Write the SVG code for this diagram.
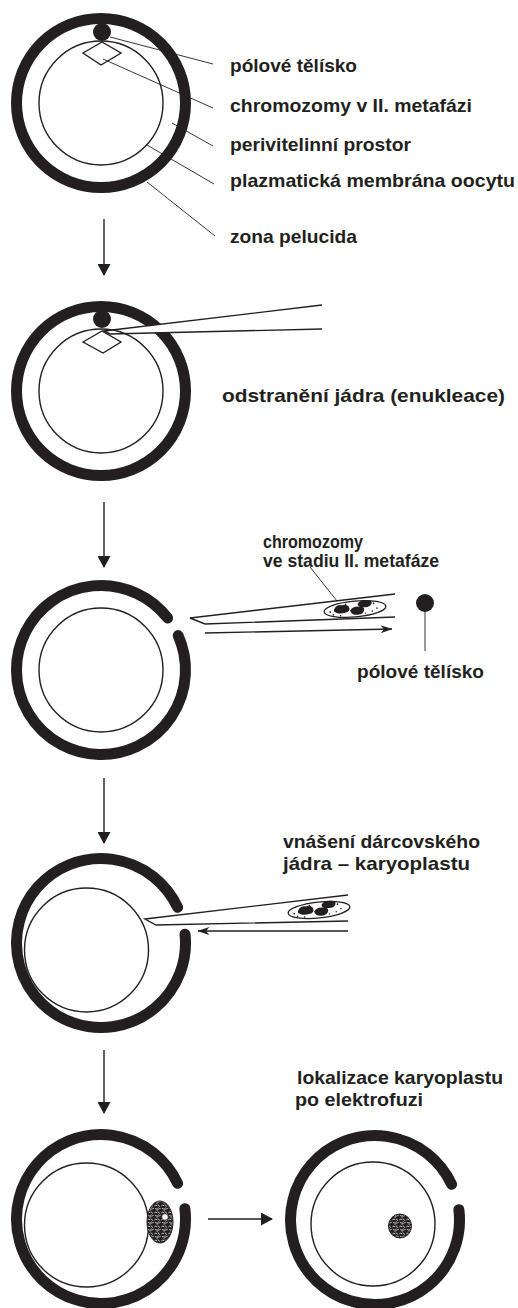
<svg xmlns="http://www.w3.org/2000/svg" width="518" height="1308" viewBox="0 0 518 1308">
  <style>
    .zona { fill: none; stroke: #231f20; stroke-width: 11; stroke-linecap: round; }
    .oocyte { fill: #fff; stroke: #231f20; stroke-width: 1.4; }
    .thin { fill: none; stroke: #231f20; stroke-width: 0.9; }
    .line { fill: none; stroke: #231f20; stroke-width: 1.4; }
    .pipette { fill: #fff; stroke: #231f20; stroke-width: 1.4; stroke-linejoin: miter; }
    .dark { fill: #231f20; }
    .label { font-family: "Liberation Sans", Arial, sans-serif; font-weight: bold; font-size: 18.5px; fill: #231f20; }
  </style>
  <defs>
    <marker id="headBig" viewBox="0 0 12 13" refX="11" refY="6.5" markerWidth="12" markerHeight="13" markerUnits="userSpaceOnUse" orient="auto">
      <path d="M0,0 L12,6.5 L0,13 z" fill="#231f20"/>
    </marker>
    <marker id="headThin" viewBox="0 0 12 8" refX="11.5" refY="4" markerWidth="12" markerHeight="8" markerUnits="userSpaceOnUse" orient="auto">
      <path d="M0,0 L12,4 L0,8 L3.5,4 z" fill="#231f20"/>
    </marker>
    <pattern id="squiggle" width="7" height="7" patternUnits="userSpaceOnUse">
      <rect width="7" height="7" fill="#231f20"/>
      <path d="M0.6,1.6 q1.2,-1.2 2.4,0 M4,0.8 l1.8,1.6 M1.2,4.6 q0.8,1 2.2,0.2 M4.4,4 q1,1.4 2,0.6 M3,6.2 l1.2,-0.6" fill="none" stroke="#fff" stroke-width="0.7" stroke-linecap="round"/>
    </pattern>
    <!-- nucleus with condensed chromosomes, drawn around its own centre -->
    <g id="chromoNucleus">
      <ellipse cx="0" cy="0" rx="31" ry="8" fill="#fff" stroke="#231f20" stroke-width="1.3"/>
      <path d="M-21,-1 q2,-5 8,-4 q5,-1 7,2 q2,5 -4,6 q-6,1 -9,-1 q-3,-1 -2,-3 z" class="dark"/>
      <path d="M-5,1 q3,-4 9,-3 q6,0 5,4 q-1,4 -7,4 q-6,0 -7,-5 z" class="dark"/>
      <path d="M3,-5 q3,-4 9,-3 q6,0 5,4 q-2,4 -8,3 q-6,0 -6,-4 z" class="dark"/>
      <g class="dark">
        <circle cx="-25" cy="1" r="0.9"/>
        <circle cx="-22" cy="4" r="0.8"/>
        <circle cx="-15" cy="5.5" r="0.8"/>
        <circle cx="-9" cy="-5.5" r="0.8"/>
        <circle cx="19" cy="-4" r="0.9"/>
        <circle cx="22" cy="1" r="0.8"/>
        <circle cx="17" cy="3.5" r="0.8"/>
        <circle cx="10" cy="5" r="0.7"/>
      </g>
    </g>
  </defs>

  <!-- stage 1: oocyte in metaphase II with labelled parts -->
  <g id="oocyte-mii">
    <circle class="zona" cx="101" cy="103" r="84.5"/>
    <circle class="oocyte" cx="101" cy="103" r="62"/>
    <path d="M83,53 L102,42 L121,53 L101,65 z" class="oocyte"/>
    <circle class="dark" cx="102" cy="32" r="9"/>
  </g>
  <g id="labels-mii">
    <line class="thin" x1="110" y1="37" x2="213" y2="64"/>
    <line class="thin" x1="103" y1="59" x2="213" y2="108"/>
    <line class="thin" x1="172" y1="123" x2="213" y2="146"/>
    <line class="thin" x1="147" y1="145" x2="214" y2="184"/>
    <line class="thin" x1="147" y1="182" x2="215" y2="236"/>
    <text class="label" x="230" y="72" textLength="127" lengthAdjust="spacingAndGlyphs">pólové tělísko</text>
    <text class="label" x="230" y="112" textLength="242" lengthAdjust="spacingAndGlyphs">chromozomy v II. metafázi</text>
    <text class="label" x="230" y="151" textLength="181" lengthAdjust="spacingAndGlyphs">perivitelinní prostor</text>
    <text class="label" x="230" y="187" textLength="285" lengthAdjust="spacingAndGlyphs">plazmatická membrána oocytu</text>
    <text class="label" x="230" y="243" textLength="127" lengthAdjust="spacingAndGlyphs">zona pelucida</text>
  </g>

  <!-- stage 2: enucleation pipette entering the zona -->
  <g id="enucleation">
    <circle class="zona" cx="101" cy="391" r="84.5"/>
    <path d="M104,331 L322,305 L322,329 L110,334 z" fill="#fff"/>
    <circle class="oocyte" cx="101" cy="391" r="62"/>
    <path d="M83,342 L102,331 L121,342 L103,353 z" class="oocyte"/>
    <circle class="dark" cx="102" cy="319" r="9"/>
    <path class="line" d="M322,305 L104,331 L110,334 L322,329"/>
    <text class="label" x="222" y="402" textLength="283" lengthAdjust="spacingAndGlyphs">odstranění jádra (enukleace)</text>
  </g>

  <!-- stage 3: removed chromosomes and polar body in the pipette -->
  <g id="removed-nucleus">
    <path class="zona" d="M178.19,635.63 A84.5,84.5 0 1 1 167.59,617.97"/>
    <circle class="oocyte" cx="101" cy="670" r="62"/>
    <path class="pipette" d="M395,594 L190,618 L205,624 L395,617"/>
    <use href="#chromoNucleus" transform="translate(355,609) rotate(-5)"/>
    <line class="thin" x1="310" y1="567" x2="337" y2="601"/>
    <circle class="dark" cx="425" cy="603" r="9"/>
    <line class="thin" x1="425" y1="611" x2="425" y2="651"/>
    <text class="label" x="263" y="548" textLength="100" lengthAdjust="spacingAndGlyphs">chromozomy</text>
    <text class="label" x="263" y="567" textLength="176" lengthAdjust="spacingAndGlyphs">ve stadiu II. metafáze</text>
    <text class="label" x="357" y="678" textLength="127" lengthAdjust="spacingAndGlyphs">pólové tělísko</text>
  </g>

  <!-- stage 4: injection of the donor karyoplast -->
  <g id="injection">
    <path class="zona" d="M185.04,934.17 A84.5,84.5 0 1 1 177.58,907.29"/>
    <circle class="oocyte" cx="86.5" cy="950" r="62"/>
    <path class="pipette" d="M348,895 L145,919 L156,925 L348,921"/>
    <use href="#chromoNucleus" transform="translate(319,910) rotate(-6)"/>
    <text class="label" x="283" y="848" textLength="197" lengthAdjust="spacingAndGlyphs">vnášení dárcovského</text>
    <text class="label" x="283" y="870" textLength="187" lengthAdjust="spacingAndGlyphs">jádra – karyoplastu</text>
  </g>

  <!-- stage 5: karyoplast before and after electrofusion -->
  <g id="before-fusion">
    <path class="zona" d="M184.87,1208.70 A84.5,84.5 0 1 1 177.58,1183.29"/>
    <circle class="oocyte" cx="86.5" cy="1225" r="62"/>
    <ellipse cx="160" cy="1222" rx="13" ry="21" fill="url(#squiggle)" stroke="#231f20" stroke-width="1"/>
    <circle cx="165" cy="1217" r="3.2" fill="#fff" stroke="#231f20" stroke-width="0.6"/>
  </g>
  <g id="after-fusion">
    <path class="zona" d="M458.87,1209.70 A84.5,84.5 0 1 1 451.58,1184.29"/>
    <circle class="oocyte" cx="373" cy="1224" r="62"/>
    <ellipse cx="400" cy="1226" rx="11.5" ry="12" fill="url(#squiggle)" stroke="#231f20" stroke-width="1"/>
    <text class="label" x="297" y="1084" textLength="206" lengthAdjust="spacingAndGlyphs">lokalizace karyoplastu</text>
    <text class="label" x="295" y="1106" textLength="128" lengthAdjust="spacingAndGlyphs">po elektrofuzi</text>
  </g>

  <!-- connectors: step arrows and pipette flow arrows -->
  <g id="connectors">
    <line class="line" x1="104" y1="219" x2="104" y2="275" marker-end="url(#headBig)"/>
    <line class="line" x1="104" y1="502" x2="104" y2="567" marker-end="url(#headBig)"/>
    <line class="line" x1="104" y1="778" x2="104" y2="843" marker-end="url(#headBig)"/>
    <line class="line" x1="104" y1="1050" x2="104" y2="1113" marker-end="url(#headBig)"/>
    <line class="line" x1="208" y1="1219" x2="272" y2="1219" marker-end="url(#headBig)"/>
    <line class="line" x1="205" y1="633" x2="392" y2="629" marker-end="url(#headThin)"/>
    <line class="line" x1="348" y1="931" x2="198" y2="931" marker-end="url(#headThin)"/>
  </g>
</svg>
